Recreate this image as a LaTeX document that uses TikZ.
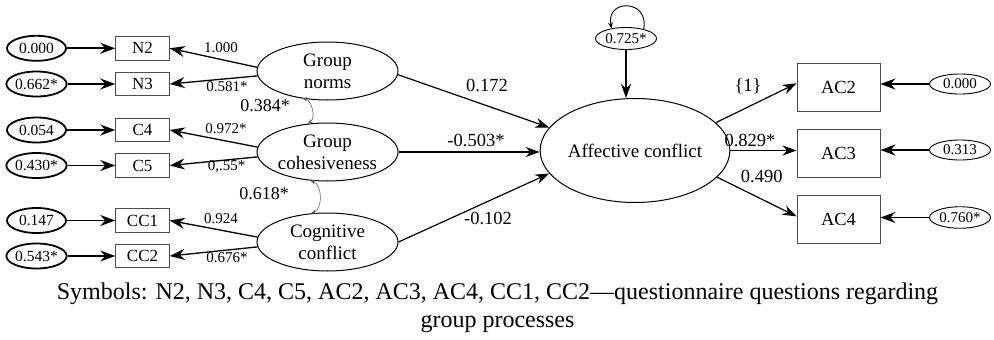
\documentclass[tikz,border=0pt]{standalone}
\usepackage{fontspec}
\setmainfont{Liberation Serif}
\usetikzlibrary{arrows.meta,shapes.geometric}
\begin{document}
\begin{tikzpicture}[x=1pt,y=-1pt,
  tipbig/.tip={Stealth[length=15pt,width=11pt,inset=5pt]},
  tipmid/.tip={Stealth[length=14pt,width=10pt,inset=4.5pt]},
  tipsm/.tip={Stealth[length=5pt,width=4pt,inset=1.5pt]},
  fa/.style={font=\fontsize{15}{17}\selectfont},
  fb/.style={font=\fontsize{18.5}{21}\selectfont},
  exo/.style={ellipse,draw,line width=1.8pt,minimum width=59pt,minimum height=25pt,inner sep=0pt,font=\fontsize{15.5}{17}\selectfont},
  exor/.style={ellipse,draw,line width=0.9pt,minimum width=61pt,minimum height=20pt,inner sep=0pt,fa},
  obs/.style={rectangle,draw=black!70,line width=0.9pt,minimum width=53.6pt,minimum height=23.3pt,inner sep=0pt,font=\fontsize{17}{19}\selectfont},
  obsr/.style={rectangle,draw=black!70,line width=0.9pt,minimum width=83pt,minimum height=48pt,inner sep=0pt,fb},
  lat/.style={ellipse,draw,line width=1pt,minimum width=141pt,minimum height=58pt,inner sep=0pt,align=center,font=\fontsize{19}{22}\selectfont},
  lab/.style={inner sep=0pt},
  exoarrow/.style={line width=1.8pt,-{tipbig}},
  load/.style={line width=1.3pt,-{tipbig}},
  pth/.style={line width=1.2pt,-{tipmid}},
  corr/.style={line width=0.6pt,draw=black!60,{tipsm}-{tipsm}}]
\path[use as bounding box] (0,0) rectangle (994,340);

% exogenous error ellipses (left)
\node[exo] (x1) at (36.5,48.3) {0.000};
\node[exo] (x2) at (36.5,84) {0.662*};
\node[exo] (x3) at (36.5,130) {0.054};
\node[exo] (x4) at (36.5,165.5) {0.430*};
\node[exo] (x5) at (36.5,220.5) {0.147};
\node[exo] (x6) at (36.5,256) {0.543*};

% observed boxes (left)
\node[obs] (n2) at (142.5,48.3) {N2};
\node[obs] (n3) at (142.5,84) {N3};
\node[obs] (c4) at (142.5,130) {C4};
\node[obs] (c5) at (142.5,165.5) {C5};
\node[obs] (cc1) at (142.5,220.5) {CC1};
\node[obs] (cc2) at (142.5,256) {CC2};

% latent
\node[lat] (gn) at (327.5,71) {Group\\norms};
\node[lat] (gc) at (327.5,152) {Group\\cohesiveness};
\node[lat] (cc) at (327.5,242) {Cognitive\\conflict};
\node[lat,minimum width=173.5pt,minimum height=104pt] (ac) at (635,150.5) {Affective conflict};

% disturbance
\node[exor,minimum height=22pt] (e725) at (626,38.5) {0.725*};

% right boxes and errors
\node[obsr] (ac2) at (838.5,87) {AC2};
\node[obsr] (ac3) at (838.5,153.3) {AC3};
\node[obsr] (ac4) at (838.5,219.3) {AC4};
\node[exor] (er1) at (960,84) {0.000};
\node[exor] (er2) at (960,150) {0.313};
\node[exor,minimum height=21.5pt] (er3) at (960,217.5) {0.760*};

% error arrows left
\draw[exoarrow] (x1) -- (n2);
\draw[exoarrow] (x2) -- (n3);
\draw[exoarrow] (x3) -- (c4);
\draw[exoarrow] (x4) -- (c5);
\draw[exoarrow] (x5) -- (cc1);
\draw[exoarrow] (x6) -- (cc2);

% loadings
\draw[load] (gn.177.5) -- (n2.east);
\draw[load] (gn.184) -- (n3.east);
\draw[load] (gc.176.7) -- (c4.east);
\draw[load] (gc.184) -- (c5.east);
\draw[load] (cc.176.7) -- (cc1.east);
\draw[load] (cc.184) -- (cc2.east);

% correlations
\draw[corr] (gn.227) to[bend left=70] (gc.125);
\draw[corr] (gc.239) to[bend left=70] (cc.120);

% structural paths
\draw[pth] (gn.-3) -- (ac.165);
\draw[pth] (gc.east) -- (gc.east -| ac.west);
\draw[pth] (cc.east) -- (ac.195);

% disturbance
\draw[line width=1.2pt,-{tipmid}] (e725.south) -- (e725.south |- ac.north);
\draw[line width=0.9pt,-{Stealth[length=6pt,width=5pt,inset=2pt]}] (e725.28) .. controls +(6,-30) and +(-6,-30) .. (e725.145);

% right paths
\draw[pth] (ac.19.5) -- (ac2.175);
\draw[pth] (ac.east) -- (ac.east -| ac3.west);
\draw[pth] (ac.-18) -- (ac4.176);
\draw[load] (er1) -- (er1 -| ac2.east);
\draw[load] (er2) -- (er2 -| ac3.east);
\draw[load] (er3) -- (er3 -| ac4.east);

% labels
\node[lab,fa] (l1) at (221,47.5) {1.000};
\node[lab,fa] (l2) at (227,87) {0.581*};
\node[lab,fa] (l3) at (226,129) {0.972*};
\node[lab,fa] (l4) at (226.5,167) {0,.55*};
\node[lab,fa] (l5) at (221,219) {0.924};
\node[lab,fa] (l6) at (227,258) {0.676*};
\node[lab,font=\fontsize{18}{20}\selectfont] (r1) at (265,106) {0.384*};
\node[lab,font=\fontsize{18}{20}\selectfont] (r2) at (264,194) {0.618*};
\node[lab,fb] (p1) at (487,85) {0.172};
\node[lab,fb] (p2) at (476,140) {-0.503*};
\node[lab,fb] (p3) at (488,218) {-0.102};
\node[lab,fb] (p4) at (748,86.7) {\{1\}};
\node[lab,fb] (p5) at (750,140) {0.829*};
\node[lab,fb] (p6) at (761.7,176.7) {0.490};

% caption
\node[anchor=base,font=\fontsize{24}{27}\selectfont] (cap1) at (497.5,299.5) {Symbols: N2, N3, C4, C5, AC2, AC3, AC4, CC1, CC2---questionnaire questions regarding};
\node[anchor=base,font=\fontsize{24}{27}\selectfont] (cap2) at (497.5,327) {group processes};
\end{tikzpicture}
\end{document}
